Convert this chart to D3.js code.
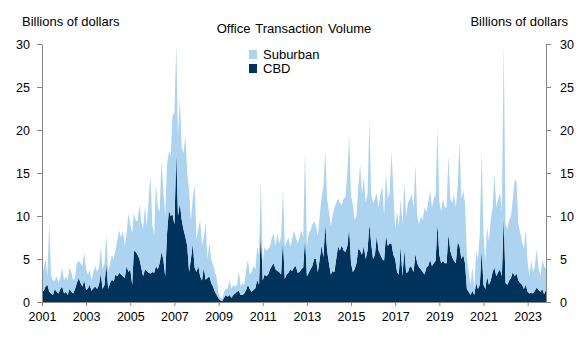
<!DOCTYPE html>
<html>
<head>
<meta charset="utf-8">
<script src="https://cdn.jsdelivr.net/npm/d3@7"></script>
<style>
  body { margin: 0; background: #fff; }
  svg { display: block; font-family: "Liberation Sans", Arial, sans-serif; }
  .axis path, .axis line { stroke: #868686; }
  .axis text { font-size: 12.5px; fill: #000; }
</style>
</head>
<body>
<svg id="chart" width="583" height="347"></svg>
<script>
// monthly office deals, billions of dollars, Jan 2001 onward
var startYear = 2001;

var cbd = [
  1.2,1.3,1.8,2,1.2,1,0.8,1.5,1.2,1,1.5,1.8,
  1,1.2,0.8,1.5,1.2,1,1.5,2.2,2.8,2.2,1.8,2.5,
  1.4,1.6,2,1.3,1.6,1.8,1.5,2,3.3,1.5,2,4.5,
  1.5,2.2,2.6,2.4,3.2,3,3.4,3.2,3,2.8,4.2,3.5,
  3.8,2,6,5.8,5.5,5,4,3,3.8,3.6,3.4,3.3,
  3.5,3.4,4.2,3.8,4.5,5.8,5,3,8,10.7,10,10.2,
  9,17.6,10,11.5,9.6,8.4,7.6,6.5,3.5,5,6.8,4,
  3.5,4.2,3,2.5,4,2.6,2.8,3,2.2,1.8,1.2,0.8,
  0.4,0.2,0.1,0.5,0.8,0.6,0.8,0.5,0.8,1,1.2,1.3,
  0.8,0.8,1,1.4,2,1.5,1.2,1.4,1.6,2.6,2,8.4,
  2.5,3.2,3,3.2,3.8,4.2,4.5,3.8,3.6,3.5,3.2,7.3,
  2.7,3.2,3.4,3.8,3.6,4,4.2,3.4,3.5,3.8,4,7.5,
  3,3.4,3.8,4.2,5,5,3.5,5,6.6,5.2,9.1,6,
  4.5,3.2,3.6,3.5,5,6.5,6,6.6,6,5.8,6.5,8.7,
  4.5,3.5,3.8,4.5,6.2,6,5.5,6.5,5,6,9.1,6.8,
  5,5.5,7.7,6,5.5,5,4.8,7.8,6.5,6.8,6.8,5.5,
  5,3.5,3.2,6.5,3,6.1,3.4,3.5,4.2,4,3.5,5.6,
  4.5,4,3.8,3.5,3.2,4,4.2,4.9,4.2,4.5,4.8,9.1,
  5.5,4.5,4.8,4.5,4.5,7.9,6,5.2,4.8,4.5,7,6.5,
  5,5.5,4.5,1.5,1.2,0.8,1.3,0.8,2.2,1.5,2,6,
  2,1.5,3,2,2.5,3.5,4,3,3.5,3.8,3,10,
  2.2,2,2.5,2.8,3.5,3,3.3,2.5,2.2,2,1.5,2,
  1.2,1,1.1,1,1.3,1.7,1.4,1.2,1.5,0.9,1.4
];

var suburban = [
  1.8,2.7,3.2,1.0,8.1,2.0,1.7,1.0,1.8,1.2,1.3,2.2,
  1.5,1.8,1.7,2.5,2.3,1.5,1.3,2.3,2.0,2.3,2.4,3.3,
  2.3,1.6,1.7,1.2,1.9,2.4,2.0,2.0,3.1,2.3,2.5,3.3,
  2.0,2.3,2.8,2.6,2.8,4.2,4.9,4.3,5.3,3.7,3.8,6.8,
  5.2,6.0,4.3,3.7,3.9,6.3,5.5,5.5,7.3,5.2,8.6,11.4,
  5.5,4.3,9.6,7.2,6.0,10.7,8.0,7.0,8.0,6.8,7.0,11.5,
  13.0,12.4,9.2,12.3,8.4,8.9,11.8,8.5,9.4,4.4,5.2,9.7,
  3.8,4.3,6.6,4.1,3.5,6.6,2.2,3.9,2.8,2.5,2.3,2.0,
  0.6,0.3,0.2,0.7,0.7,1.0,1.8,1.0,1.2,0.8,0.8,2.3,
  1.0,1.4,1.0,2.2,2.9,1.7,2.3,2.8,2.2,3.8,3.5,5.8,
  2.0,3.2,3.0,3.0,2.6,3.3,3.5,2.7,4.4,3.3,4.3,5.7,
  3.8,3.8,4.1,2.6,3.6,4.3,3.3,3.4,4.0,4.5,3.5,10.1,
  3.5,4.6,4.5,4.8,4.4,3.8,4.2,5.0,5.6,8.2,8.5,6.0,
  6.0,5.6,6.4,7.5,6.5,5.5,5.5,4.7,6.0,6.4,8.5,10.7,
  7.8,7.8,5.7,5.5,7.2,10.0,7.0,8.0,6.5,6.5,12.0,5.7,
  6.5,6.5,5.0,5.0,7.0,8.5,5.2,7.2,5.5,5.9,10.7,7.5,
  3.5,7.0,5.6,5.5,6.0,7.8,6.6,8.0,7.8,8.5,7.5,10.4,
  5.5,5.0,6.2,6.0,7.8,6.5,7.3,8.1,6.8,7.5,7.7,11.1,
  6.1,6.0,7.2,6.5,6.5,9.1,6.0,6.3,7.7,6.5,6.5,12.3,
  7.0,7.5,7.0,3.8,2.3,1.2,2.7,0.7,3.7,3.5,6.0,11.5,
  6.0,3.0,5.8,5.0,7.1,7.5,11.0,8.0,8.5,8.9,7.5,20.0,
  6.8,6.5,7.0,7.2,8.5,11.2,10.7,6.5,5.8,5.0,4.7,6.5,
  3.4,2.0,3.7,2.5,2.9,4.5,2.4,1.8,3.4,3.3,2.4
];

var yTicks = [0, 5, 10, 15, 20, 25, 30];
var xTickYears = d3.range(2001, 2024, 2);

var colors = { suburban: "#acd3ef", cbd: "#00335c" };

var svg = d3.select("#chart");
var plot = { left: 42, right: 546, top: 44, bottom: 302 };

var rows = cbd.map(function(v, i) {
  return {
    date: d3.utcMonth.offset(new Date(Date.UTC(startYear, 0, 1)), i),
    cbd: v,
    suburban: suburban[i]
  };
});

var x = d3.scaleUtc()
  .domain(d3.extent(rows, function(d) { return d.date; }))
  .range([plot.left, plot.right]);

var y = d3.scaleLinear().domain([0, 30]).range([plot.bottom, plot.top]);

var layers = d3.stack().keys(["cbd", "suburban"])(rows);

var area = d3.area()
  .x(function(d) { return x(d.data.date); })
  .y0(function(d) { return y(d[0]); })
  .y1(function(d) { return y(d[1]); });

svg.append("g")
  .selectAll("path")
  .data(layers)
  .join("path")
  .attr("fill", function(d) { return colors[d.key]; })
  .attr("d", area);

// axes
svg.append("g")
  .attr("class", "axis")
  .attr("transform", "translate(" + plot.left + ",0)")
  .call(d3.axisLeft(y).tickValues(yTicks).tickSize(5).tickPadding(7).tickSizeOuter(0));

svg.append("g")
  .attr("class", "axis")
  .attr("transform", "translate(" + plot.right + ",0)")
  .call(d3.axisRight(y).tickValues(yTicks).tickSize(5).tickPadding(9).tickSizeOuter(0));

svg.append("g")
  .attr("class", "axis")
  .attr("transform", "translate(0," + plot.bottom + ")")
  .call(d3.axisBottom(x)
    .tickValues(xTickYears.map(function(yr) { return new Date(Date.UTC(yr, 0, 1)); }))
    .tickFormat(d3.utcFormat("%Y"))
    .tickSize(4).tickPadding(6).tickSizeOuter(0));

// titles
svg.append("text").attr("x", 22).attr("y", 26)
  .attr("font-size", 13).text("Billions of dollars");
svg.append("text").attr("x", 568).attr("y", 26)
  .attr("font-size", 13).attr("text-anchor", "end").text("Billions of dollars");
svg.append("text").attr("x", 294).attr("y", 33)
  .attr("font-size", 13).attr("text-anchor", "middle")
  .attr("word-spacing", 1.5).text("Office Transaction Volume");

// legend
var legend = svg.append("g").attr("transform", "translate(249,50)");
[["Suburban", "suburban"], ["CBD", "cbd"]].forEach(function(item, i) {
  legend.append("rect").attr("x", 0).attr("y", i * 14).attr("width", 8).attr("height", 9)
    .attr("fill", colors[item[1]]);
  legend.append("text").attr("x", 14).attr("y", i * 14 + 9)
    .attr("font-size", 13).text(item[0]);
});
</script>
</body>
</html>
